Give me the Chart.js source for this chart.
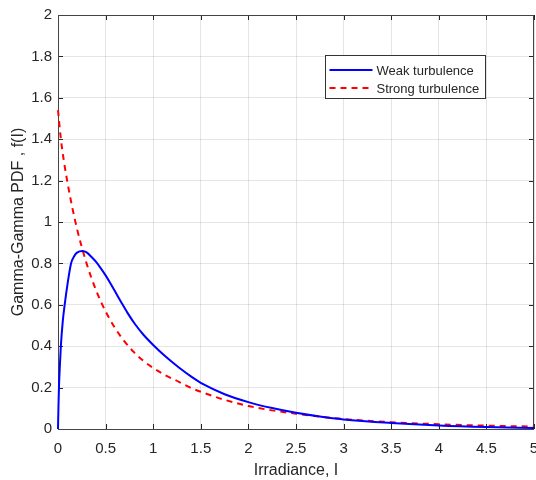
<!DOCTYPE html>
<html>
<head>
<meta charset="utf-8">
<script src="https://cdn.jsdelivr.net/npm/chart.js@4"></script>
<style>
  html, body { margin: 0; padding: 0; background: #fff; }
  #wrap { width: 536px; height: 480px; }
</style>
</head>
<body>
<div id="wrap"><canvas id="pdfChart" width="536" height="480"></canvas></div>
<script>
// values
const weakX = [0, 0.005, 0.01, 0.02, 0.03, 0.05, 0.07, 0.1, 0.137, 0.17, 0.2, 0.26, 0.3, 0.35, 0.4, 0.45, 0.5, 0.55, 0.6, 0.667, 0.73, 0.81, 0.9, 1.0, 1.13, 1.27, 1.4, 1.53, 1.75, 2.0, 2.25, 2.5, 2.75, 3.0, 3.5, 4.0, 4.5, 5.0];
const weakY = [0, 0.11, 0.2, 0.31, 0.4, 0.52, 0.6, 0.7, 0.8, 0.835, 0.852, 0.86, 0.853, 0.832, 0.807, 0.776, 0.742, 0.704, 0.664, 0.61, 0.561, 0.506, 0.454, 0.406, 0.35, 0.297, 0.253, 0.215, 0.168, 0.13, 0.101, 0.078, 0.06, 0.046, 0.029, 0.017, 0.0095, 0.005];
const strongX = [0, 0.03, 0.06, 0.1, 0.15, 0.2, 0.25, 0.3, 0.35, 0.4, 0.45, 0.5, 0.6, 0.7, 0.8, 0.9, 1.0, 1.13, 1.27, 1.4, 1.53, 1.75, 2.0, 2.25, 2.5, 2.75, 3.0, 3.5, 4.0, 4.5, 5.0];
const strongY = [1.54, 1.402, 1.3, 1.19, 1.07, 0.967, 0.878, 0.8, 0.731, 0.67, 0.616, 0.568, 0.487, 0.422, 0.37, 0.328, 0.295, 0.259, 0.228, 0.198, 0.175, 0.141, 0.111, 0.09, 0.074, 0.06, 0.048, 0.033, 0.023, 0.016, 0.012];
const seriesLabels = ['Weak turbulence', 'Strong turbulence'];

const textColor = '#262626';
const fontFamily = '"Liberation Sans", Arial, sans-serif';

const toPoints = (xs, ys) => xs.map((x, i) => ({ x: x, y: ys[i] }));
const fmtTick = v => String(Number(v.toFixed(1)));

// box around the axes + inward tick marks, like MATLAB (drawn under the curves)
const axesBox = {
  id: 'axesBox',
  beforeDatasetsDraw(chart) {
    const { ctx, chartArea: a, scales } = chart;
    ctx.save();
    ctx.strokeStyle = textColor;
    ctx.lineWidth = 1;
    ctx.beginPath();
    scales.x.ticks.forEach(t => {
      const px = Math.round(scales.x.getPixelForValue(t.value)) + 0.5;
      ctx.moveTo(px, a.bottom); ctx.lineTo(px, a.bottom - 5);
      ctx.moveTo(px, a.top); ctx.lineTo(px, a.top + 5);
    });
    scales.y.ticks.forEach(t => {
      const py = Math.round(scales.y.getPixelForValue(t.value)) + 0.5;
      ctx.moveTo(a.left, py); ctx.lineTo(a.left + 5, py);
      ctx.moveTo(a.right, py); ctx.lineTo(a.right - 5, py);
    });
    ctx.stroke();
    ctx.strokeStyle = '#444';
    ctx.strokeRect(Math.round(a.left) + 0.5, Math.round(a.top) + 0.5, Math.round(a.right - a.left) - 1, Math.round(a.bottom - a.top));
    ctx.restore();
  }
};

// legend box in the upper right part of the axes
const boxLegend = {
  id: 'boxLegend',
  afterDraw(chart) {
    const ctx = chart.ctx;
    const bx = 325.5, by = 55.5, bw = 160, bh = 43;
    ctx.save();
    ctx.fillStyle = '#fff';
    ctx.fillRect(bx, by, bw, bh);
    ctx.strokeStyle = '#333';
    ctx.lineWidth = 1;
    ctx.strokeRect(bx, by, bw, bh);
    ctx.font = '13px ' + fontFamily;
    ctx.textBaseline = 'middle';
    chart.data.datasets.forEach((ds, i) => {
      const y = by + 14.5 + i * 18;
      ctx.strokeStyle = ds.borderColor;
      ctx.lineWidth = ds.borderWidth;
      ctx.setLineDash(ds.borderDash || []);
      ctx.beginPath();
      ctx.moveTo(bx + 4, y);
      ctx.lineTo(bx + 47, y);
      ctx.stroke();
      ctx.setLineDash([]);
      ctx.fillStyle = textColor;
      ctx.fillText(ds.label, bx + 51, y + 1);
    });
    ctx.restore();
  }
};

const ctx = document.getElementById('pdfChart').getContext('2d');
new Chart(ctx, {
  type: 'line',
  data: {
    datasets: [
      {
        label: seriesLabels[0],
        data: toPoints(weakX, weakY),
        borderColor: '#0000ff',
        borderWidth: 2,
        pointRadius: 0,
        fill: false,
        clip: 4,
        cubicInterpolationMode: 'monotone'
      },
      {
        label: seriesLabels[1],
        data: toPoints(strongX, strongY),
        borderColor: '#ff0000',
        borderWidth: 2,
        borderDash: [6, 5],
        pointRadius: 0,
        fill: false,
        clip: 4,
        cubicInterpolationMode: 'monotone'
      }
    ]
  },
  options: {
    responsive: false,
    animation: false,
    devicePixelRatio: 1,
    layout: { padding: { left: 0, right: 2, top: 15, bottom: 0 } },
    plugins: {
      legend: { display: false },
      tooltip: { enabled: false }
    },
    scales: {
      x: {
        type: 'linear',
        min: 0,
        max: 5,
        ticks: {
          stepSize: 0.5,
          color: textColor,
          font: { family: fontFamily, size: 15 },
          padding: 11,
          maxRotation: 0,
          callback: fmtTick
        },
        grid: { color: 'rgba(0,0,0,0.1)', drawTicks: false },
        border: { display: false },
        title: {
          display: true,
          text: 'Irradiance, I',
          color: textColor,
          font: { family: fontFamily, size: 16 },
          padding: { top: 4, bottom: 0 }
        },
        afterFit(scale) {
          scale.height = 51;
          scale.paddingLeft = 0;
          scale.paddingRight = 0;
        }
      },
      y: {
        min: 0,
        max: 2,
        ticks: {
          stepSize: 0.2,
          color: textColor,
          font: { family: fontFamily, size: 15 },
          padding: 6,
          callback: fmtTick
        },
        grid: { color: 'rgba(0,0,0,0.1)', drawTicks: false },
        border: { display: false },
        title: {
          display: true,
          text: 'Gamma-Gamma PDF , f(I)',
          color: textColor,
          font: { family: fontFamily, size: 16 },
          padding: { top: 9, bottom: 0 }
        },
        afterFit(scale) {
          scale.width = 58;
          scale.paddingTop = 0;
          scale.paddingBottom = 0;
        }
      }
    }
  },
  plugins: [axesBox, boxLegend]
});
</script>
</body>
</html>
